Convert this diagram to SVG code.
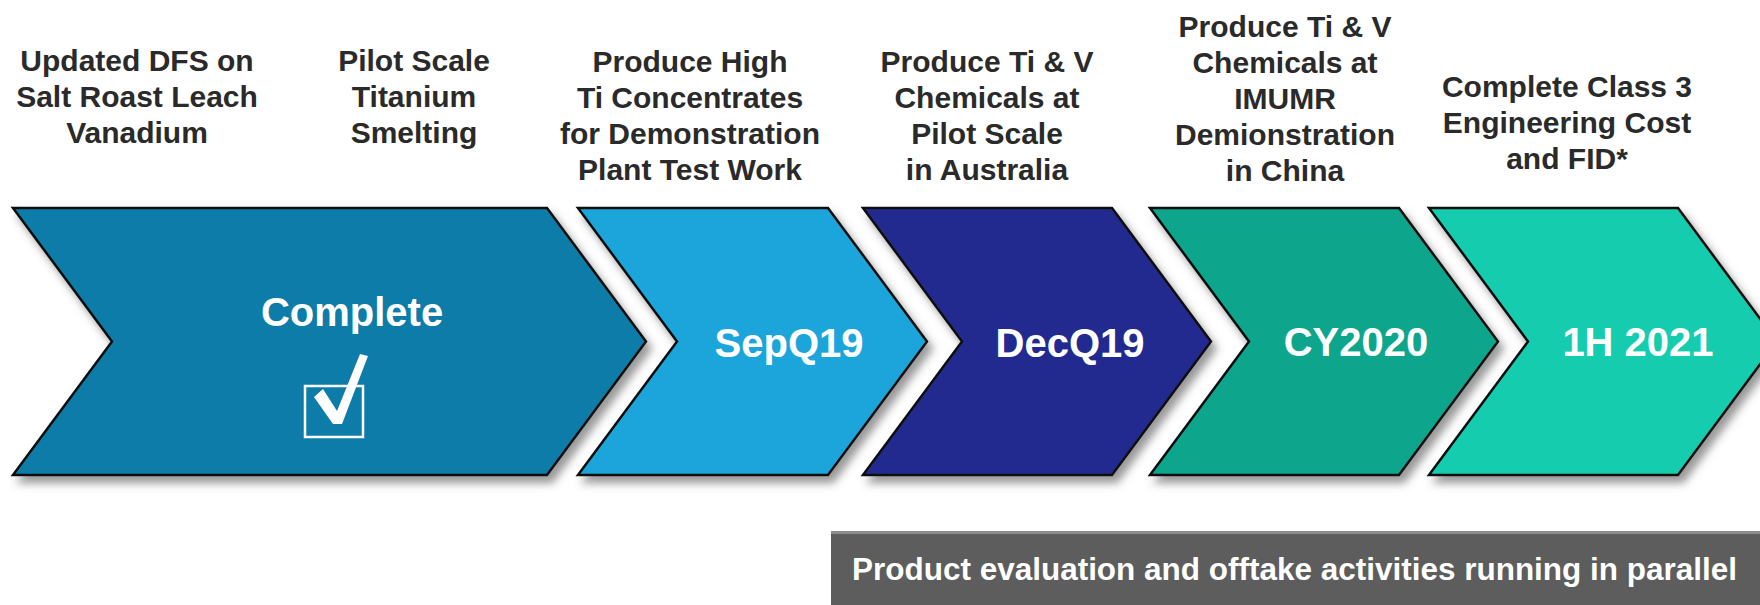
<svg xmlns="http://www.w3.org/2000/svg" width="1760" height="605" viewBox="0 0 1760 605">
<defs>
<filter id="sh" x="-5%" y="-10%" width="115%" height="130%">
<feDropShadow dx="5" dy="7" stdDeviation="4.5" flood-color="#555" flood-opacity="0.6"/>
</filter>
<style>
.lbl{font-family:"Liberation Sans",Arial,sans-serif;font-weight:bold;font-size:30px;fill:#2a2a2a;text-anchor:middle}
.in{font-family:"Liberation Sans",Arial,sans-serif;font-weight:bold;font-size:40px;fill:#fff;text-anchor:middle}
.chev{stroke:#111;stroke-width:2.5;stroke-linejoin:miter;filter:url(#sh)}
.bar{font-family:"Liberation Sans",Arial,sans-serif;font-weight:bold;font-size:31px;fill:#fff}
</style>
</defs>
<rect width="1760" height="605" fill="#fff"/>
<g id="connectors"></g>
<g id="step1">
<text class="lbl" x="137"><tspan x="137" y="71">Updated DFS on</tspan><tspan x="137" y="107">Salt Roast Leach</tspan><tspan x="137" y="143">Vanadium</tspan></text>
<text class="lbl" x="414"><tspan x="414" y="71">Pilot Scale</tspan><tspan x="414" y="107">Titanium</tspan><tspan x="414" y="143">Smelting</tspan></text>
<path class="chev" fill="#0b7ca8" d="M13,208 L547,208 L646,341.5 L547,475 L13,475 L112,341.5 Z"/>
<text class="in" x="352" y="326">Complete</text>
<rect x="305" y="386" width="58" height="51" fill="none" stroke="#fff" stroke-width="2.5"/>
<path fill="#fff" d="M314,397 L323,389 L337,411 L360,354 L368,356 L342,424 L333,424 Z"/>
</g>
<g id="step2">
<text class="lbl" x="690"><tspan x="690" y="72">Produce High</tspan><tspan x="690" y="108">Ti Concentrates</tspan><tspan x="690" y="144">for Demonstration</tspan><tspan x="690" y="180">Plant Test Work</tspan></text>
<path class="chev" fill="#1aa5db" d="M578,208 L828,208 L927,341.5 L828,475 L578,475 L677,341.5 Z"/>
<text class="in" x="789" y="357">SepQ19</text>
</g>
<g id="step3">
<text class="lbl" x="987"><tspan x="987" y="72">Produce Ti &amp; V</tspan><tspan x="987" y="108">Chemicals at</tspan><tspan x="987" y="144">Pilot Scale</tspan><tspan x="987" y="180">in Australia</tspan></text>
<path class="chev" fill="#212c8f" d="M863,208 L1112,208 L1211,341.5 L1112,475 L863,475 L962,341.5 Z"/>
<text class="in" x="1070" y="357">DecQ19</text>
</g>
<g id="step4">
<text class="lbl" x="1285"><tspan x="1285" y="37">Produce Ti &amp; V</tspan><tspan x="1285" y="73">Chemicals at</tspan><tspan x="1285" y="109">IMUMR</tspan><tspan x="1285" y="145">Demionstration</tspan><tspan x="1285" y="181">in China</tspan></text>
<path class="chev" fill="#0ea58c" d="M1150,208 L1399,208 L1498,341.5 L1399,475 L1150,475 L1249,341.5 Z"/>
<text class="in" x="1356" y="356">CY2020</text>
</g>
<g id="step5">
<text class="lbl" x="1567"><tspan x="1567" y="97">Complete Class 3</tspan><tspan x="1567" y="133">Engineering Cost</tspan><tspan x="1567" y="169">and FID*</tspan></text>
<path class="chev" fill="#13ccae" d="M1429,208 L1678,208 L1777,341.5 L1678,475 L1429,475 L1528,341.5 Z"/>
<text class="in" x="1638" y="356">1H 2021</text>
</g>
<g id="parallel">
<rect x="831" y="531" width="929" height="74" fill="#5d5d5d"/>
<rect x="831" y="531" width="929" height="3" fill="#8c8c8c"/>
<text class="bar" x="852" y="580" textLength="885" lengthAdjust="spacingAndGlyphs">Product evaluation and offtake activities running in parallel</text>
</g>
</svg>
